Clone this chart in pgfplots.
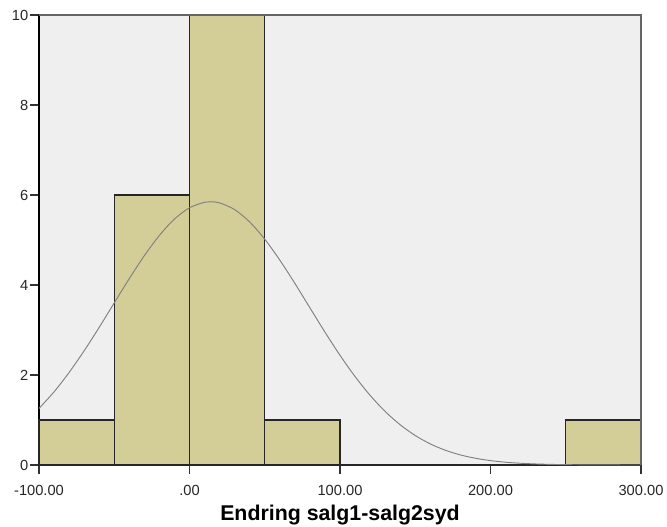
\documentclass[border=0pt]{standalone}
\usepackage{pgfplots}
\pgfplotsset{compat=1.18}
\usepackage{fontspec}
\setmainfont{Liberation Sans}
\definecolor{bgc}{HTML}{EFEFEF}
\definecolor{barc}{HTML}{D3CE98}
\begin{document}
\begin{tikzpicture}
\path[use as bounding box] (-29.25pt,-45.75pt) rectangle (471pt,348.75pt);
\begin{axis}[
  at={(0,0)}, anchor=south west,
  scale only axis, width=451.5pt, height=337.5pt,
  xmin=-100, xmax=300, ymin=0, ymax=10,
  axis background/.style={fill=bgc},
  axis x line*=bottom, axis y line*=left,
  axis line style={black, line width=1.1pt},
  xtick={-100,0,100,200,300},
  xticklabels={-100.00,.00,100.00,200.00,300.00},
  ytick={0,2,4,6,8,10},
  tick align=outside, major tick length=6.5pt,
  tick style={black!80, line width=0.8pt},
  /pgf/number format/assume math mode=true,
  tick label style={font=\fontsize{11pt}{13pt}\selectfont, text=black!85},
  xticklabel style={yshift=-5pt},
  yticklabel style={xshift=2pt},
  xlabel={\textbf{Endring salg1-salg2syd}},
  xlabel style={font=\fontsize{16pt}{18pt}\selectfont, yshift=0pt},
  after end axis/.code={\draw[black!60, line width=1pt] (rel axis cs:0,1) -- (rel axis cs:1,1) -- (rel axis cs:1,0);},
  clip=false,
]
\addplot[ybar interval, fill=barc, draw=black!85, line width=0.9pt] coordinates {
  (-100,1) (-50,6) (0,10) (50,1) (100,0) (150,0) (200,0) (250,1) (300,1)
};
\addplot[gray, line width=0.7pt, smooth, no markers] coordinates {
(-100,1.257) (-90,1.626) (-80,2.056) (-70,2.538) (-60,3.059) (-50,3.603)
(-40,4.142) (-30,4.652) (-20,5.102) (-10,5.465) (0,5.716) (10,5.839) (14,5.85)
(20,5.825) (30,5.676) (40,5.400) (50,5.018) (60,4.554) (70,4.037) (80,3.494)
(90,2.953) (100,2.438) (110,1.966) (120,1.548) (130,1.190) (140,0.894)
(150,0.655) (160,0.469) (170,0.328) (180,0.224) (190,0.150) (200,0.0975)
(210,0.062) (220,0.0386) (230,0.0234) (240,0.0139) (250,0.0080) (260,0.0045)
(270,0.0025) (280,0.00135) (290,0.0007) (300,0.0004)
};
\end{axis}
\end{tikzpicture}
\end{document}
